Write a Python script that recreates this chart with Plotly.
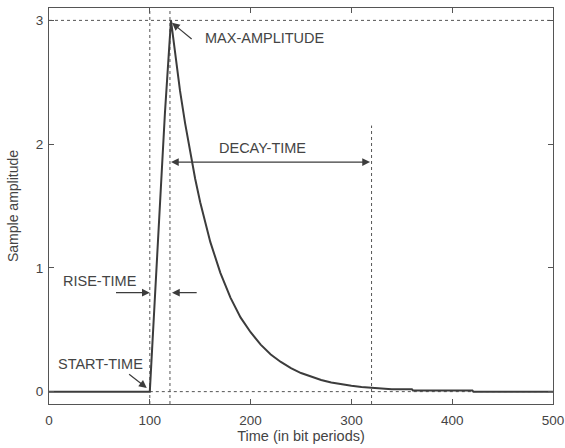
import plotly.graph_objects as go

# Pulse samples
time_bits = [0, 100, 105, 110, 115, 121, 125, 130, 135, 140, 145, 150, 155, 160, 170, 180, 190,
             200, 210, 220, 230, 240, 250, 260, 270, 280, 290, 300, 310, 320, 330, 340,
             360, 361, 420, 421, 500]
amplitude = [0.0, 0.0, 0.75, 1.5, 2.25, 3.0, 2.73, 2.43, 2.17, 1.93, 1.72, 1.53, 1.36, 1.21, 0.96, 0.76, 0.60,
             0.48, 0.38, 0.30, 0.24, 0.19, 0.15, 0.12, 0.094, 0.074, 0.059, 0.047, 0.037, 0.03, 0.025, 0.02,
             0.02, 0.01, 0.01, 0.0, 0.0]

# Markers
start_time = 100
peak_time = 120
decay_end = 320
decay_line_top = 2.15
max_amp = 3.0
x_ticks = [0, 100, 200, 300, 400, 500]
y_ticks = [0, 1, 2, 3]
x_range = [0, 500]
y_range = [-0.1, 3.1]

grey = "#3c3c3c"
text_col = "#444444"
dash = "3px,3px"
FAM = "Liberation Sans, Arial, sans-serif"

fig = go.Figure()

# reference dashed lines
ref_line = dict(color="#555555", width=1, dash=dash)
fig.add_trace(go.Scatter(x=x_range, y=[max_amp, max_amp], mode="lines", line=ref_line, hoverinfo="skip"))
fig.add_trace(go.Scatter(x=[start_time, x_range[1]], y=[0, 0], mode="lines", line=ref_line, hoverinfo="skip"))
fig.add_trace(go.Scatter(x=[start_time, start_time], y=y_range, mode="lines", line=ref_line, hoverinfo="skip"))
fig.add_trace(go.Scatter(x=[peak_time, peak_time], y=y_range, mode="lines", line=ref_line, hoverinfo="skip"))
fig.add_trace(go.Scatter(x=[decay_end, decay_end], y=[y_range[0], decay_line_top], mode="lines", line=ref_line, hoverinfo="skip"))

# pulse
fig.add_trace(go.Scatter(x=time_bits, y=amplitude, mode="lines",
                         line=dict(color=grey, width=2), hoverinfo="skip"))

font = dict(family=FAM, size=14.5, color=text_col)
arrow = dict(showarrow=True, arrowhead=2, arrowsize=1.3, arrowwidth=1.2, arrowcolor=grey,
             axref="x", ayref="y", xref="x", yref="y", text="")

annotations = [
    dict(x=peak_time + 2, y=2.98, ax=143, ay=2.84, **arrow),
    dict(x=153, y=2.86, text="MAX-AMPLITUDE", showarrow=False, xanchor="left", yanchor="middle", font=font),
    dict(x=peak_time + 1, y=1.855, ax=decay_end, ay=1.855, arrowside="end+start", **arrow),
    dict(x=212, y=1.97, text="DECAY-TIME", showarrow=False, xanchor="center", yanchor="middle", font=font),
    dict(x=start_time, y=0.8, ax=65, ay=0.8, **arrow),
    dict(x=peak_time + 2, y=0.8, ax=148, ay=0.8, **arrow),
    dict(x=51, y=0.89, text="RISE-TIME", showarrow=False, xanchor="center", yanchor="middle", font=font),
    dict(x=97, y=0.03, ax=78, ay=0.15, **arrow),
    dict(x=51, y=0.22, text="START-TIME", showarrow=False, xanchor="center", yanchor="middle", font=font),
]

axis_common = dict(showgrid=False, zeroline=False, showline=True, linecolor="#555555", linewidth=1.3,
                   mirror="ticks", ticks="inside", ticklen=5, tickcolor="#555555", automargin=False,
                   tickfont=dict(family=FAM, size=13.5, color=text_col))

fig.update_layout(
    width=565, height=448,
    margin=dict(l=49, r=12, t=8, b=44),
    paper_bgcolor="white", plot_bgcolor="white",
    showlegend=False,
    annotations=annotations,
    xaxis=dict(range=x_range, tickvals=x_ticks, ticktext=[str(v) for v in x_ticks],
               ticklabelstandoff=4,
               title=dict(text="Time (in bit periods)", standoff=2,
                          font=dict(family=FAM, size=14.5, color=text_col)),
               **axis_common),
    yaxis=dict(range=y_range, tickvals=y_ticks, ticktext=[str(v) for v in y_ticks],
               ticklabelstandoff=2,
               title=dict(text="Sample amplitude", standoff=13,
                          font=dict(family=FAM, size=14, color=text_col)),
               **axis_common),
)

fig.write_html("out.html")
